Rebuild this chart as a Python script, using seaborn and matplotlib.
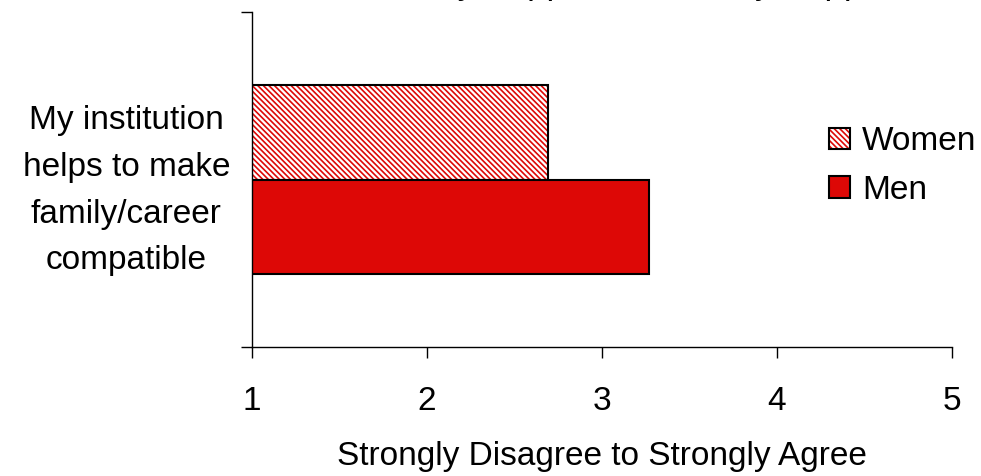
import matplotlib
matplotlib.use("Agg")
import matplotlib.pyplot as plt
import matplotlib.colors as mcolors
import seaborn as sns
import pandas as pd

# Survey item and mean agreement scores (1 = strongly disagree, 5 = strongly agree)
items = ["My institution\nhelps to make\nfamily/career\ncompatible"]
groups = ["Women", "Men"]
women_scores = [2.69]
men_scores = [3.27]
x_ticks = [1, 2, 3, 4, 5]

title_text = "Faculty Support vs. Family Support"
x_label = "Strongly Disagree to Strongly Agree"

red = "#DD0806"

df = pd.DataFrame({
    "item": items * 2,
    "group": ["Women"] * len(items) + ["Men"] * len(items),
    "score": women_scores + men_scores,
})

sns.set_theme(style="ticks")
plt.rcParams["font.family"] = ["Liberation Sans", "DejaVu Sans"]
plt.rcParams["text.color"] = "black"
plt.rcParams["axes.labelcolor"] = "black"
plt.rcParams["hatch.linewidth"] = 1.2

fig = plt.figure(figsize=(9.81, 4.76), dpi=100)
ax = fig.add_axes([252 / 981, 1 - 347 / 476, 700 / 981, 335 / 476])

sns.barplot(
    data=df, y="item", x="score", hue="group", hue_order=groups,
    orient="h", width=0.565, palette=["white", red], saturation=1,
    edgecolor="black", linewidth=1.5, legend=False, ax=ax,
    err_kws={"linewidth": 0},
)

# Women bars: fine red diagonal stripes on white
women_bars = ax.containers[0]
for p in women_bars.patches:
    p.set_hatch("\\" * 6)
    if hasattr(p, "set_hatchcolor"):
        p.set_hatchcolor(red)
    else:
        p._hatch_color = mcolors.to_rgba(red)

ax.set_xlim(1, 5)
ax.set_xticks(x_ticks)
ax.set_xticklabels([str(t) for t in x_ticks])
ax.set_ylim(0.5, -0.5)
ax.set_ylabel("")
ax.set_xlabel(x_label, fontsize=24, labelpad=17, color="black")

# Chart title sits just above the top edge of the figure
fig.text(633 / 981, 1 + 6 / 476, title_text, fontsize=25, ha="center",
         va="baseline", color="black")

for s in ["top", "right"]:
    ax.spines[s].set_visible(False)
for s in ["left", "bottom"]:
    ax.spines[s].set_color("black")
    ax.spines[s].set_linewidth(1.0)

ax.tick_params(axis="x", direction="out", length=8, width=1.0, color="black",
               labelsize=24, pad=20, labelcolor="black")
ax.tick_params(axis="y", which="major", length=0, pad=15.8,
               labelsize=24, labelcolor="black")
ax.set_yticks([-0.5, 0.5], minor=True)
ax.tick_params(axis="y", which="minor", direction="out", length=8, width=1.0,
               color="black")
for t in ax.get_yticklabels():
    t.set_multialignment("center")
    t.set_linespacing(1.65)

handles = [c.patches[0] for c in ax.containers]
fig.legend(handles, groups, loc="center left",
           bbox_to_anchor=(829 / 981, 1 - 166 / 476), frameon=False,
           fontsize=24, handlelength=0.63, handleheight=0.63,
           handletextpad=0.36, labelspacing=0.53, borderpad=0,
           borderaxespad=0)

fig.savefig("out.png", dpi=100)
